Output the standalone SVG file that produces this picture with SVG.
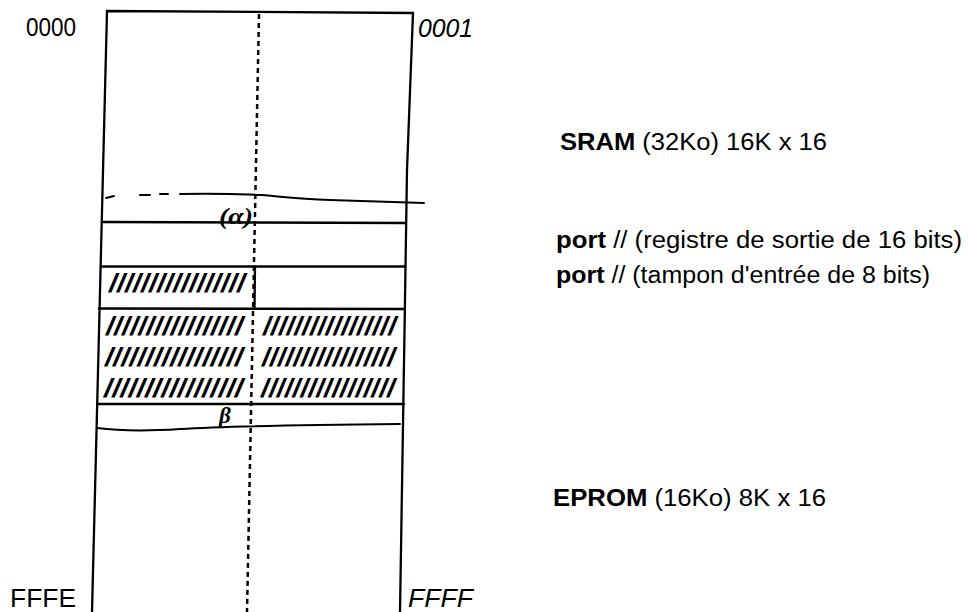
<svg xmlns="http://www.w3.org/2000/svg" width="969" height="612" viewBox="0 0 969 612">
<style>
.ln{fill:none;stroke:#000;stroke-width:2.3;stroke-linecap:round}
.dash{fill:none;stroke:#000;stroke-width:2.5;stroke-dasharray:5 4}
.hand{fill:none;stroke:#000;stroke-width:2;stroke-linecap:round}
.addr{font-family:"Liberation Sans",Arial,sans-serif;font-size:26px;fill:#000}
.it{font-style:italic}
.lbl{font-family:"Liberation Sans",Arial,sans-serif;font-size:23px;fill:#000}
.b{font-weight:bold}
.hatch{font-family:"Liberation Sans",Arial,sans-serif;font-size:26px;font-weight:bold;font-style:italic;fill:#000}
.note{font-family:"Liberation Serif","Times New Roman",serif;font-size:23px;font-style:italic;font-weight:bold;fill:#000}
</style>
<rect width="969" height="612" fill="#fff"/>
<g id="memory-map">
  <polyline class="ln" points="92,612 107,11 413,13 407,170 405,300 400,612"/>
  <line class="dash" x1="259" y1="14" x2="247" y2="612"/>
  <line class="ln" x1="103" y1="222" x2="406" y2="223"/>
  <line class="ln" x1="101" y1="266.5" x2="405" y2="266.5"/>
  <line class="ln" x1="99" y1="308.5" x2="405" y2="309"/>
  <line class="ln" x1="97" y1="404" x2="404" y2="404"/>
  <line class="ln" x1="255" y1="266.5" x2="254.5" y2="308.5"/>
</g>
<g id="hand-marks">
  <path class="hand" d="M106,198 L114,196"/>
  <path class="hand" d="M140,195 L150,195 M160,194 L168,194"/>
  <path class="hand" d="M180,194 C215,193 240,194 262,195 C285,197 300,199 330,200 C370,201 400,202 424,203"/>
  <path class="hand" d="M97,428 C120,431 150,431 180,429 C230,426 300,425 400,424"/>
  <text class="note" x="219" y="224" textLength="34" lengthAdjust="spacingAndGlyphs">(α)</text>
  <text class="note" x="219" y="423">β</text>
</g>
<g id="hatching">
  <text class="hatch" x="109" y="292" textLength="136" lengthAdjust="spacingAndGlyphs">/////////////////</text>
  <text class="hatch" x="106" y="335" textLength="137" lengthAdjust="spacingAndGlyphs">/////////////////</text>
  <text class="hatch" x="105" y="366" textLength="138" lengthAdjust="spacingAndGlyphs">/////////////////</text>
  <text class="hatch" x="104" y="397" textLength="139" lengthAdjust="spacingAndGlyphs">/////////////////</text>
  <text class="hatch" x="263" y="335" textLength="133" lengthAdjust="spacingAndGlyphs">/////////////////</text>
  <text class="hatch" x="262" y="366" textLength="133" lengthAdjust="spacingAndGlyphs">/////////////////</text>
  <text class="hatch" x="261" y="397" textLength="134" lengthAdjust="spacingAndGlyphs">/////////////////</text>
</g>
<g id="addresses">
  <text class="addr" x="26" y="36" textLength="50" lengthAdjust="spacingAndGlyphs">0000</text>
  <text class="addr it" x="418" y="37" textLength="55" lengthAdjust="spacingAndGlyphs">0001</text>
  <text class="addr" x="10" y="607" textLength="66" lengthAdjust="spacingAndGlyphs">FFFE</text>
  <text class="addr it" x="408" y="607" textLength="65" lengthAdjust="spacingAndGlyphs">FFFF</text>
</g>
<g id="labels">
  <text class="lbl" x="560" y="150" textLength="267" lengthAdjust="spacingAndGlyphs"><tspan class="b">SRAM</tspan> (32Ko) 16K x 16</text>
  <text class="lbl" x="556" y="248" textLength="406" lengthAdjust="spacingAndGlyphs"><tspan class="b">port</tspan> // (registre de sortie de 16 bits)</text>
  <text class="lbl" x="556" y="283" textLength="374" lengthAdjust="spacingAndGlyphs"><tspan class="b">port</tspan> // (tampon d'entrée de 8 bits)</text>
  <text class="lbl" x="553" y="506" textLength="273" lengthAdjust="spacingAndGlyphs"><tspan class="b">EPROM</tspan> (16Ko) 8K x 16</text>
</g>
</svg>
